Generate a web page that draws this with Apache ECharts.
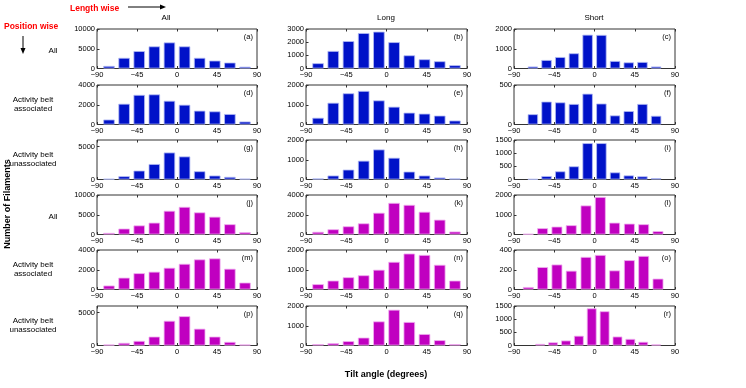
<!DOCTYPE html>
<html>
<head>
<meta charset="utf-8">
<script src="https://cdn.jsdelivr.net/npm/echarts@6/dist/echarts.min.js"></script>
<style>
html,body{margin:0;padding:0;background:#fff;}
#chart{width:746px;height:388px;}
</style>
</head>
<body>
<div id="chart"></div>
<script>
// bin centres (degrees)
var binsWide  = [-76.5, -59.5, -42.5, -25.5, -8.5, 8.5, 25.5, 42.5, 59.5, 76.5];
var binsShortA = [-68.9, -53.6, -38.3, -23, -7.7, 7.7, 23, 38.3, 53.6, 68.9];
var binsShortB = [-74, -58, -42, -26, -9.5, 6.5, 22.5, 39, 55, 71];
var binsShortC = [-60.7, -46.3, -31.9, -17.5, -3.1, 11.3, 25.7, 40.1, 54.5, 68.9];

// counts per panel
var countsA = [650, 2700, 4400, 5600, 6600, 5600, 2700, 2000, 1500, 450];
var countsB = [400, 1330, 2080, 2690, 2800, 2000, 1000, 700, 550, 250];
var countsC = [100, 430, 580, 770, 1710, 1700, 380, 310, 330, 100];
var countsD = [500, 2100, 3000, 3050, 2400, 2000, 1400, 1330, 1060, 300];
var countsE = [340, 1100, 1580, 1700, 1220, 900, 600, 550, 450, 200];
var countsF = [130, 290, 280, 260, 390, 265, 115, 170, 260, 110];
var countsG = [100, 500, 1350, 2350, 4100, 3500, 1250, 600, 400, 120];
var countsH = [50, 200, 500, 950, 1520, 1100, 400, 200, 100, 50];
var countsI = [15, 130, 310, 500, 1380, 1380, 270, 155, 120, 50];
var countsJ = [400, 1500, 2300, 3000, 6000, 7000, 5600, 4500, 2600, 600];
var countsK = [270, 530, 830, 1130, 2200, 3200, 3000, 2300, 1500, 300];
var countsL = [30, 320, 400, 470, 1470, 1900, 600, 550, 520, 170];
var countsM = [400, 1200, 1650, 1800, 2200, 2600, 3050, 3150, 2100, 700];
var countsN = [270, 450, 620, 720, 1000, 1400, 1820, 1750, 1250, 450];
var countsO = [25, 227, 253, 190, 330, 350, 193, 297, 340, 110];
var countsP = [150, 400, 700, 1350, 3750, 4450, 2550, 1350, 550, 150];
var countsQ = [70, 120, 220, 400, 1220, 1810, 1190, 580, 270, 70];
var countsR = [60, 120, 190, 370, 1410, 1300, 340, 250, 140, 40];

// y axis max / tick step per panel
var yMax  = {a:10000,b:3000,c:2000,d:4000,e:2000,f:500,g:6000,h:2000,i:1500,
             j:10000,k:4000,l:2000,m:4000,n:2000,o:400,p:6000,q:2000,r:1500};
var yStep = {a:5000,b:1000,c:1000,d:2000,e:1000,f:500,g:5000,h:1000,i:500,
             j:5000,k:2000,l:1000,m:2000,n:1000,o:200,p:5000,q:1000,r:500};

var colTitles = ['All', 'Long', 'Short'];
var rowTitles = ['All', 'Activity belt\nassociated', 'Activity belt\nunassociated',
                 'All', 'Activity belt\nassociated', 'Activity belt\nunassociated'];

var panels = [
  ['a', binsWide, countsA], ['b', binsWide, countsB], ['c', binsShortA, countsC],
  ['d', binsWide, countsD], ['e', binsWide, countsE], ['f', binsShortA, countsF],
  ['g', binsWide, countsG], ['h', binsWide, countsH], ['i', binsShortA, countsI],
  ['j', binsWide, countsJ], ['k', binsWide, countsK], ['l', binsShortB, countsL],
  ['m', binsWide, countsM], ['n', binsWide, countsN], ['o', binsShortB, countsO],
  ['p', binsWide, countsP], ['q', binsWide, countsQ], ['r', binsShortC, countsR]
];

var colLeft = [97, 306, 514];
var colW = [160, 161, 161];
var rowTop = [29, 85, 140, 195, 250, 306];
var rowH = 39.5;
var FONT = 'Liberation Sans, Arial, sans-serif';

var chart = echarts.init(document.getElementById('chart'));
var grids = [], xAxes = [], yAxes = [], series = [], graphics = [];

panels.forEach(function (p, i) {
  var r = Math.floor(i / 3), c = i % 3;
  var id = p[0];
  var col = r < 3 ? '#0012c8' : '#c000c0';
  var edge = r < 3 ? '#b4bcf4' : '#f0b0f0';
  grids.push({
    left: colLeft[c], top: rowTop[r], width: colW[c], height: rowH,
    show: true, borderColor: '#333', borderWidth: 1, outerBoundsMode: 'none'
  });
  xAxes.push({
    type: 'value', gridIndex: i, min: -90, max: 90, interval: 45,
    axisLine: {show: false, onZero: false}, splitLine: {show: false},
    axisTick: {inside: true, length: 2.5, lineStyle: {color: '#333'}},
    axisLabel: {fontSize: 7.5, fontFamily: FONT, color: '#000', margin: 2,
      formatter: function (v) { return String(v).replace('-', '\u2212'); }}
  });
  xAxes.push({
    type: 'value', gridIndex: i, position: 'top', min: -90, max: 90, interval: 45,
    axisLine: {show: false, onZero: false}, splitLine: {show: false},
    axisTick: {inside: true, length: 2.5, lineStyle: {color: '#333'}},
    axisLabel: {show: false}
  });
  yAxes.push({
    type: 'value', gridIndex: i, position: 'left', min: 0, max: yMax[id], interval: yStep[id],
    axisLine: {show: false, onZero: false}, splitLine: {show: false},
    axisTick: {inside: true, length: 2.5, lineStyle: {color: '#333'}},
    axisLabel: {fontSize: 7.5, fontFamily: FONT, color: '#000', margin: 2,
      showMaxLabel: yMax[id] % yStep[id] === 0,
      formatter: function (v) { return String(v); }}
  });
  series.push({
    type: 'bar', xAxisIndex: i * 2, yAxisIndex: i, barWidth: '76%',
    silent: true, animation: false,
    itemStyle: {color: col, borderColor: edge, borderWidth: 0.8},
    data: p[1].map(function (b, k) { return [b, p[2][k]]; })
  });
  graphics.push({
    type: 'text', right: 746 - colLeft[c] - colW[c] + 4, top: rowTop[r] + 4,
    style: {text: '(' + id + ')', fontSize: 7.5, fontFamily: FONT, fill: '#000'}
  });
});

// column / row headings
var colCentre = [166, 386, 594];
colTitles.forEach(function (t, c) {
  graphics.push({type: 'text', x: colCentre[c], y: 18,
    style: {text: t, fontSize: 8, fontFamily: FONT, fill: '#000',
      textAlign: 'center', textVerticalAlign: 'middle'}});
});
rowTitles.forEach(function (t, r) {
  var cy = rowTop[r] + rowH / 2;
  graphics.push({type: 'text', x: t === 'All' ? 53 : 33, y: t === 'All' ? cy + 2.5 : cy,
    style: {text: t, fontSize: 8, fontFamily: FONT, fill: '#000', lineHeight: 9,
      textAlign: 'center', textVerticalAlign: 'middle'}});
});

graphics.push(
  {type: 'text', x: 70, y: 9, style: {text: 'Length wise', fontSize: 8.5, fontWeight: 'bold',
    fontFamily: FONT, fill: '#ff0000', textVerticalAlign: 'middle'}},
  {type: 'line', shape: {x1: 128, y1: 7, x2: 163, y2: 7}, style: {stroke: '#000', lineWidth: 1}},
  {type: 'polygon', shape: {points: [[166, 7], [160, 4.5], [160, 9.5]]}, style: {fill: '#000'}},
  {type: 'text', x: 4, y: 27, style: {text: 'Position wise', fontSize: 8.5, fontWeight: 'bold',
    fontFamily: FONT, fill: '#ff0000', textVerticalAlign: 'middle'}},
  {type: 'line', shape: {x1: 23, y1: 36, x2: 23, y2: 51}, style: {stroke: '#000', lineWidth: 1}},
  {type: 'polygon', shape: {points: [[23, 54], [20.5, 48], [25.5, 48]]}, style: {fill: '#000'}},
  {type: 'text', x: 8, y: 204, rotation: Math.PI / 2,
    style: {text: 'Number of Filaments', fontSize: 9, fontWeight: 'bold', fontFamily: FONT,
      fill: '#000', textAlign: 'center', textVerticalAlign: 'middle'}},
  {type: 'text', x: 386, y: 375,
    style: {text: 'Tilt angle (degrees)', fontSize: 9, fontWeight: 'bold', fontFamily: FONT,
      fill: '#000', textAlign: 'center', textVerticalAlign: 'middle'}}
);

chart.setOption({
  animation: false,
  backgroundColor: '#fff',
  grid: grids,
  xAxis: xAxes,
  yAxis: yAxes,
  series: series,
  graphic: graphics
});
</script>
</body>
</html>
